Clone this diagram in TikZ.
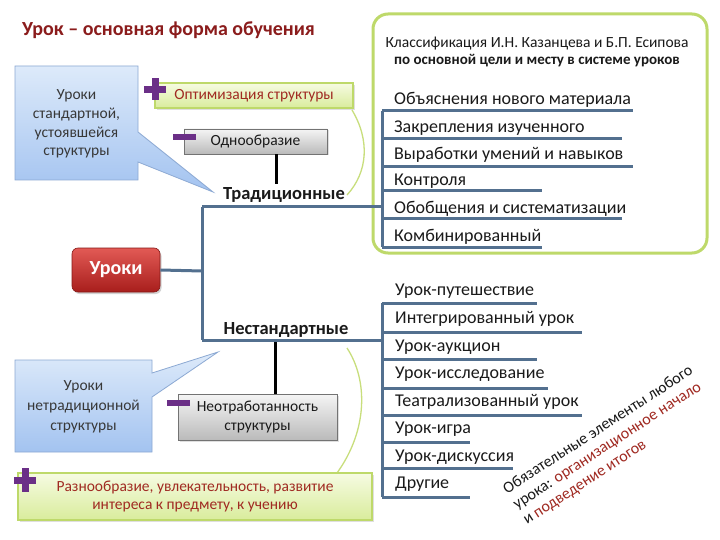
\documentclass[tikz,border=0pt]{standalone}
\usepackage{fontspec}
\setmainfont{Carlito}
\usetikzlibrary{shadows,calc}
\definecolor{treeblue}{HTML}{53708F}
\definecolor{titlered}{HTML}{8B1C1C}
\definecolor{darkred}{HTML}{A02A22}
\definecolor{grnedge}{HTML}{BED96A}
\definecolor{grnline}{HTML}{C8DE7C}
\definecolor{grntop}{HTML}{F6FBE2}
\definecolor{grnbot}{HTML}{D9EC9C}
\definecolor{purp}{HTML}{6B2F87}
\definecolor{bluetop}{HTML}{DDEAFA}
\definecolor{bluebot}{HTML}{A3C3F0}
\definecolor{blueedge}{HTML}{8CA9D3}
\definecolor{redtop}{HTML}{E25A55}
\definecolor{redbot}{HTML}{A81E1C}
\definecolor{txt}{HTML}{1A1A1A}
\tikzset{
  tree/.style={draw=treeblue, line width=3pt},
  blk/.style={draw=black, line width=3pt},
  item/.style={anchor=west, text=txt, inner sep=0pt, font=\fontsize{18}{20}\selectfont},
  bigl/.style={text=txt, inner sep=0pt, font=\bfseries\fontsize{18.5}{20}\selectfont},
  graybox/.style={draw=black!55, line width=0.8pt, top color=black!4, bottom color=black!27,
    text=txt, font=\fontsize{15.5}{18}\selectfont, align=center, inner sep=1pt,
    drop shadow={opacity=0.25, shadow xshift=1.5pt, shadow yshift=-1.5pt}},
  grnbox/.style={draw=grnedge, line width=2.5pt, top color=grntop, bottom color=grnbot,
    text=darkred, font=\fontsize{15.5}{18}\selectfont, align=center, inner sep=1pt,
    drop shadow={opacity=0.25, shadow xshift=2pt, shadow yshift=-2pt}},
  callout/.style={draw=blueedge, line width=0.8pt, top color=bluetop, bottom color=bluebot},
  callouttxt/.style={text=black!78, font=\fontsize{15.5}{18.7}\selectfont, align=center},
  grncurve/.style={draw=grnline, line width=1.3pt},
  rottxt/.style={anchor=north west, rotate=33, inner sep=0pt, align=left, text=txt, font=\fontsize{16}{18.3}\selectfont},
}
\begin{document}
\begin{tikzpicture}[x=1pt,y=-1pt]
\useasboundingbox (0,0) rectangle (720,540);
\fill[white] (0,0) rectangle (720,540);

% title
\node[anchor=west, inner sep=0pt, text=titlered, font=\bfseries\fontsize{20}{22}\selectfont] (title) at (22,30) {Урок – основная форма обучения};

% classification box
\node[draw=grnedge, line width=3pt, rounded corners=15pt, fill=white, minimum width=334pt, minimum height=239pt] (clsbox) at (540,133.5) {};
\node[text=txt, inner sep=0pt, font=\fontsize{15.5}{17}\selectfont] (cls1) at (537,44) {Классификация И.Н. Казанцева и Б.П. Есипова};
\node[text=txt, inner sep=0pt, font=\bfseries\fontsize{15}{17}\selectfont] (cls2) at (537,61) {по основной цели и месту в системе уроков};

% green curves
\coordinate (gc1a) at (352,110);
\coordinate (gc2b) at (337,473);
\draw[grncurve] (gc1a) .. controls (370,140) and (368,172) .. (347,195);
\draw[grncurve] (347,348) .. controls (368,380) and (368,430) .. (gc2b);

% green boxes
\node[grnbox, minimum width=198pt, minimum height=25pt] (gb1) at (254,95.5) {Оптимизация структуры};
\node[grnbox, minimum width=354pt, minimum height=47pt] (gb2) at (195,496.5) {Разнообразие, увлекательность, развитие\\интереса к предмету, к учению};

% plus signs
\fill[purp] (144,86) rectangle (166,93);
\fill[purp] (151.5,78) rectangle (158.5,100);
\fill[purp] (14,477) rectangle (36,484);
\fill[purp] (21.5,468) rectangle (28.5,492);

% callouts
\path[callout] (15,66) -- (138,66) -- (138,132) -- (213,192) -- (138,162) -- (138,180) -- (15,180) -- cycle;
\node[callouttxt] (cl1) at (76.5,124) {Уроки\\стандартной,\\устоявшейся\\структуры};
\path[callout] (15,360) -- (152,360) -- (152,373) -- (218,352) -- (152,397) -- (152,452) -- (15,452) -- cycle;
\node[callouttxt, font=\fontsize{15.5}{20}\selectfont] (cl2) at (83.5,407) {Уроки\\нетрадиционной\\структуры};

% gray boxes
\node[graybox, minimum width=143pt, minimum height=25pt] (odn) at (255.5,141.5) {Однообразие};
\node[graybox, minimum width=159pt, minimum height=46pt, font=\fontsize{15.5}{18.5}\selectfont] (neo) at (257.5,417) {Неотработанность\\структуры};

% minus signs
\fill[purp] (173,134) rectangle (196,140);
\fill[purp] (167,400) rectangle (190,406);

% labels
\node[bigl] (trad) at (284,195) {Традиционные};
\node[bigl] (nst) at (286,330) {Нестандартные};
\draw[blk] ($(odn.south)+(20.5,0)$) -- ($(trad.north)+(-8,-3)$);
\draw[blk] ($(nst.south)+(-11,4)$) -- ($(neo.north)+(17.5,0)$);

% Уроки button
\node[rounded corners=6pt, draw=redbot!80!black, line width=0.6pt, top color=redtop, bottom color=redbot,
  minimum width=88pt, minimum height=44pt, text=white, font=\bfseries\fontsize{20}{22}\selectfont,
  drop shadow={opacity=0.35, shadow xshift=1.5pt, shadow yshift=-2pt}] (uroki) at (116,270) {Уроки};

% tree
\coordinate (jroot) at (202,271);
\coordinate (jtop) at (202,207);
\coordinate (jbot) at (202,340);
\coordinate (ttop) at (382,111);
\coordinate (tmid) at (382,207);
\coordinate (tbot) at (382,247);
\coordinate (ntop) at (382,303);
\coordinate (nmid) at (382,340);
\coordinate (nbot) at (382,497);
\draw[tree] (uroki.east) -- (jroot);
\draw[tree] (jtop) -- (jbot);
\draw[tree] (jtop) -- (tmid);
\draw[tree] (jbot) -- (nmid);
\draw[tree] (ttop) -- (tbot);
\draw[tree] (ntop) -- (nbot);

% traditional items
\foreach \y/\t/\n in {100/Объяснения нового материала/t1, 128/Закрепления изученного/t2, 155/Выработки умений и навыков/t3, 181/Контроля/t4, 209/Обобщения и систематизации/t5, 237/Комбинированный/t6}{
  \node[item] (\n) at (394,\y) {\t};
}
\foreach \y/\e in {111/633, 139/622, 167/633, 191/542, 219/622, 247/542}{
  \draw[tree] (382,\y) -- (\e,\y);
}

% non-standard items
\foreach \y/\t/\n in {291/Урок-путешествие/n1, 319/Интегрированный урок/n2, 347/Урок-аукцион/n3, 374/Урок-исследование/n4, 402/Театрализованный урок/n5, 429/Урок-игра/n6, 457/Урок-дискуссия/n7, 484/Другие/n8}{
  \node[item] (\n) at (395,\y) {\t};
}
\foreach \y/\e in {303/537, 332/582, 359/537, 388/548, 415/582, 442/470, 468/513, 497/470}{
  \draw[tree] (382,\y) -- (\e,\y);
}

% rotated note
\node[rottxt] (rnote) at (501,485) {Обязательные элементы любого\\урока: \textcolor{darkred}{организационное начало}\\и \textcolor{darkred}{подведение итогов}};
\end{tikzpicture}
\end{document}
